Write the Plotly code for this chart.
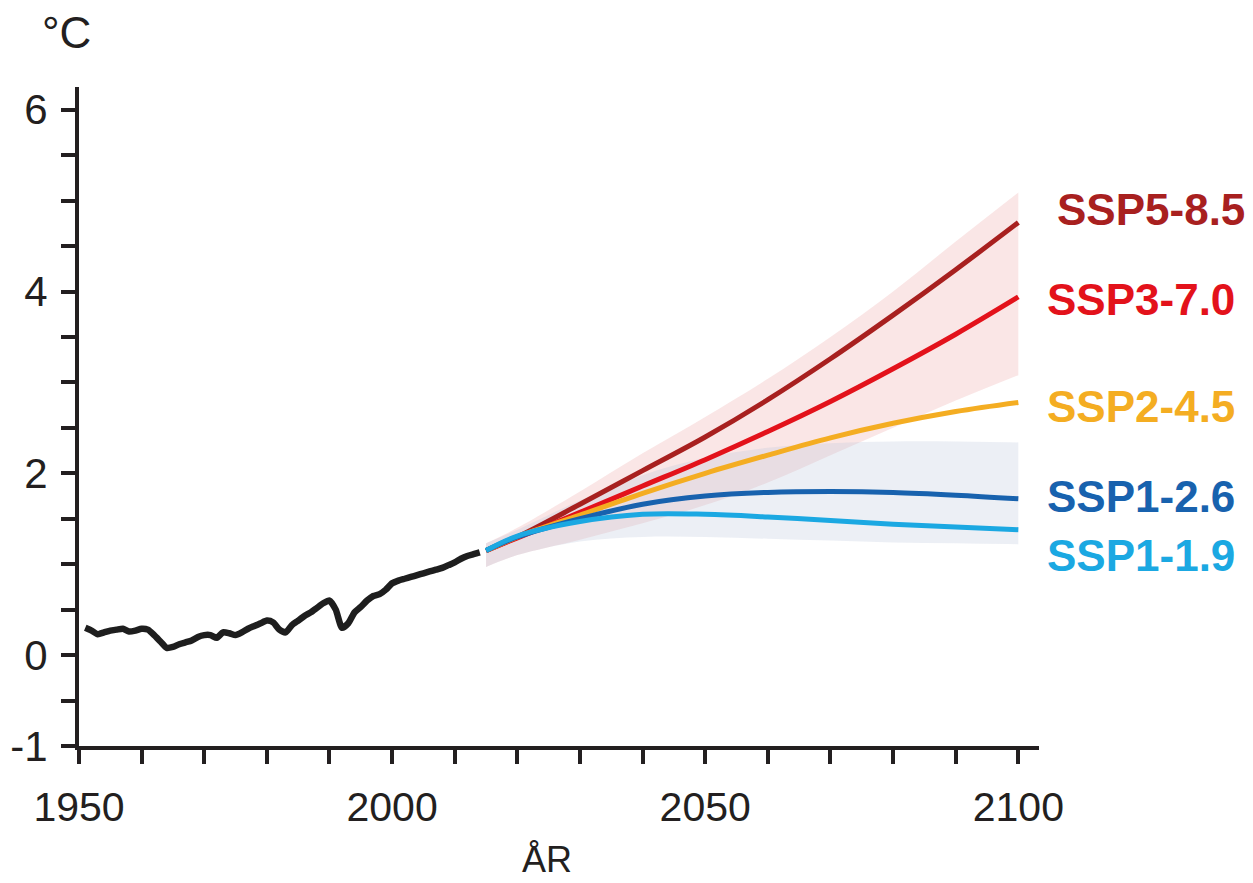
import plotly.graph_objects as go

# ---------------- data ----------------
hist_years = list(range(1951, 2015))
hist_temp = [0.30, 0.27, 0.23, 0.25, 0.27, 0.28, 0.29, 0.26, 0.27, 0.29,
             0.28, 0.22, 0.15, 0.08, 0.09, 0.12, 0.14, 0.16, 0.20, 0.22,
             0.22, 0.19, 0.25, 0.24, 0.22, 0.25, 0.29, 0.32, 0.35, 0.38,
             0.36, 0.28, 0.25, 0.33, 0.38, 0.43, 0.47, 0.52, 0.57, 0.60,
             0.50, 0.30, 0.35, 0.47, 0.53, 0.60, 0.65, 0.67, 0.72, 0.79,
             0.82, 0.84, 0.86, 0.88, 0.90, 0.92, 0.94, 0.96, 0.99, 1.02,
             1.06, 1.09, 1.11, 1.13]

proj_years = [2015, 2020, 2030, 2040, 2050, 2060, 2070, 2080, 2090, 2100]
ssp585 = [1.15, 1.30, 1.66, 2.03, 2.40, 2.81, 3.26, 3.74, 4.24, 4.76]
ssp370 = [1.15, 1.29, 1.57, 1.86, 2.15, 2.46, 2.79, 3.15, 3.53, 3.94]
ssp245 = [1.15, 1.30, 1.54, 1.78, 2.00, 2.20, 2.39, 2.55, 2.68, 2.78]
ssp126 = [1.15, 1.30, 1.50, 1.66, 1.75, 1.79, 1.80, 1.79, 1.76, 1.72]
ssp119 = [1.15, 1.31, 1.47, 1.55, 1.55, 1.52, 1.48, 1.44, 1.41, 1.38]

ssp370_low = [0.97, 1.10, 1.27, 1.45, 1.65, 1.90, 2.20, 2.50, 2.80, 3.08]
ssp370_high = [1.23, 1.40, 1.80, 2.22, 2.62, 3.04, 3.50, 4.00, 4.55, 5.09]
ssp126_low = [0.97, 1.10, 1.25, 1.30, 1.30, 1.28, 1.26, 1.24, 1.23, 1.22]
ssp126_high = [1.23, 1.38, 1.70, 1.98, 2.17, 2.28, 2.33, 2.35, 2.35, 2.34]

scenario_names = ["SSP5-8.5", "SSP3-7.0", "SSP2-4.5", "SSP1-2.6", "SSP1-1.9"]
scenario_values = [ssp585, ssp370, ssp245, ssp126, ssp119]

x_tick_vals = list(range(1950, 2101, 10))
x_tick_text = ["1950" if v == 1950 else "2000" if v == 2000 else "2050" if v == 2050
               else "2100" if v == 2100 else "" for v in x_tick_vals]
y_tick_vals = [-1, -0.5, 0, 0.5, 1, 1.5, 2, 2.5, 3, 3.5, 4, 4.5, 5, 5.5, 6]
y_tick_text = ["-1", "", "0", "", "", "", "2", "", "", "", "4", "", "", "", "6"]

# ---------------- styles / layout ----------------
X_RANGE = [1950, 2103.3]
Y_RANGE = [-1, 6.25]
colors = ["#a8201f", "#e3121b", "#f4ad22", "#1862ae", "#1ba8e2"]
label_x = [2105.9, 2104.3, 2104.3, 2104.3, 2104.3]   # left edge of labels (year units)
label_y = [4.90, 3.91, 2.73, 1.74, 1.10]             # vertical centres (°C units)
INK = "#231f20"
REG = "Liberation Sans, Arial, sans-serif"


def px_x(v):
    return (v - X_RANGE[0]) / (X_RANGE[1] - X_RANGE[0])


def px_y(v):
    return (v - Y_RANGE[0]) / (Y_RANGE[1] - Y_RANGE[0])


fig = go.Figure()

# bands
fig.add_trace(go.Scatter(x=proj_years, y=ssp370_low, mode="lines", line=dict(width=0, shape="spline"),
                         hoverinfo="skip", showlegend=False))
fig.add_trace(go.Scatter(x=proj_years, y=ssp370_high, mode="lines", line=dict(width=0, shape="spline"),
                         fill="tonexty", fillcolor="rgba(232,130,130,0.20)", hoverinfo="skip", showlegend=False))
fig.add_trace(go.Scatter(x=proj_years, y=ssp126_low, mode="lines", line=dict(width=0, shape="spline"),
                         hoverinfo="skip", showlegend=False))
fig.add_trace(go.Scatter(x=proj_years, y=ssp126_high, mode="lines", line=dict(width=0, shape="spline"),
                         fill="tonexty", fillcolor="rgba(185,198,218,0.28)", hoverinfo="skip", showlegend=False))

# historical
fig.add_trace(go.Scatter(x=hist_years, y=hist_temp, mode="lines",
                         line=dict(color="#1e1e1e", width=6.5, shape="spline", smoothing=0.6),
                         showlegend=False))

# scenarios
for name, vals, c in zip(scenario_names, scenario_values, colors):
    fig.add_trace(go.Scatter(x=proj_years, y=vals, mode="lines", name=name,
                             line=dict(color=c, width=5, shape="spline"), showlegend=False))

for name, c, lx, ly in zip(scenario_names, colors, label_x, label_y):
    fig.add_annotation(x=px_x(lx), y=px_y(ly), xref="paper", yref="paper", text="<b>" + name + "</b>",
                       showarrow=False, xanchor="left", yanchor="middle",
                       font=dict(family=REG, size=44, color=c))

fig.add_annotation(x=-0.041, y=1.082, xref="paper", yref="paper", text="°C", showarrow=False,
                   xanchor="left", yanchor="middle", font=dict(family=REG, size=44, color=INK))
fig.add_annotation(x=0.488, y=-0.172, xref="paper", yref="paper", text="ÅR", showarrow=False,
                   xanchor="center", yanchor="middle", font=dict(family=REG, size=36, color=INK))

# the page body adds an 8px offset, so the figure is 8px smaller and margins compensate
fig.update_layout(
    width=1245, height=875,
    margin=dict(l=71, r=214, t=79, b=137, autoexpand=False),
    plot_bgcolor="white", paper_bgcolor="white",
    showlegend=False,
    xaxis=dict(range=X_RANGE, showgrid=False, zeroline=False, showline=True, automargin=False,
               linewidth=4, linecolor=INK, ticks="outside", ticklen=14, tickwidth=4, tickcolor=INK,
               tickmode="array", tickvals=x_tick_vals, ticktext=x_tick_text, ticklabelstandoff=8,
               tickfont=dict(family=REG, size=41, color=INK)),
    yaxis=dict(range=Y_RANGE, showgrid=False, zeroline=False, showline=True, automargin=False,
               linewidth=4, linecolor=INK, ticks="outside", ticklen=14, tickwidth=4, tickcolor=INK,
               tickmode="array", tickvals=y_tick_vals, ticktext=y_tick_text, ticklabelstandoff=5,
               tickfont=dict(family=REG, size=42, color=INK)),
)

fig.write_html("out.html")
